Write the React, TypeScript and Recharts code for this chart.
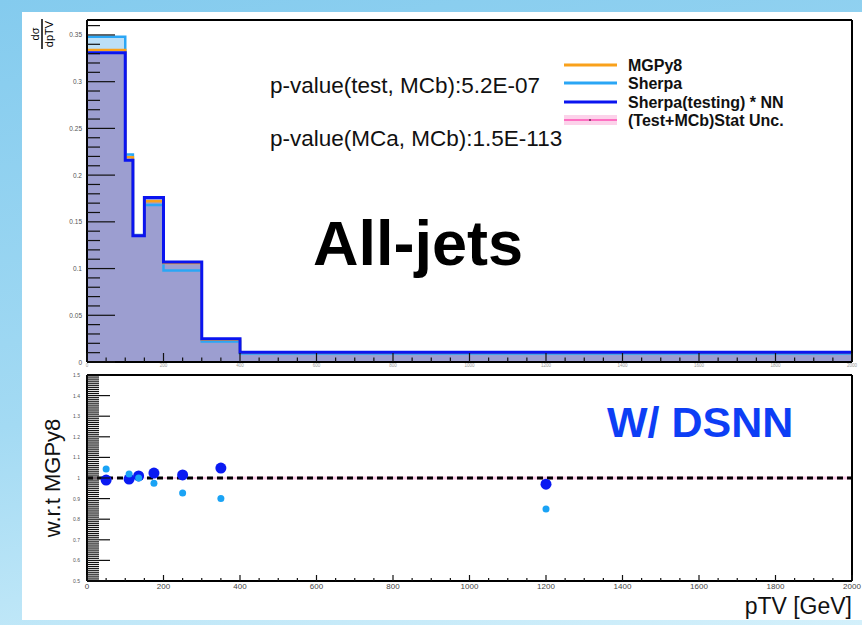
import React from 'react'
import { ComposedChart, Area, Scatter, XAxis, YAxis, ReferenceLine } from 'recharts'

// pTV binning and normalised cross-sections per bin
const binEdges = [0, 100, 120, 150, 200, 300, 400, 2000]
const mgpy8 = [0.334, 0.219, 0.135, 0.172, 0.106, 0.024, 0.0105]
const sherpa = [0.348, 0.222, 0.136, 0.168, 0.098, 0.022, 0.009]
const sherpaNN = [0.331, 0.216, 0.135, 0.176, 0.107, 0.025, 0.0105]
const statUnc = [0.002, 0.003, 0.003, 0.003, 0.005, 0.006, 0.007]

// ratio panel, w.r.t. MGPy8
const binCentres = [50, 110, 135, 175, 250, 350, 1200]
const ratioSherpa = [1.044, 1.02, 1.0, 0.975, 0.927, 0.9, 0.85]
const ratioNN = [0.99, 0.995, 1.01, 1.024, 1.015, 1.048, 0.97]

// axis labels
const xMajor = [0, 200, 400, 600, 800, 1000, 1200, 1400, 1600, 1800, 2000]
const xLabels = ['0', '200', '400', '600', '800', '1000', '1200', '1400', '1600', '1800', '2000']
const histYMajor = [0, 0.05, 0.1, 0.15, 0.2, 0.25, 0.3, 0.35]
const histYLabels = ['0', '0.05', '0.1', '0.15', '0.2', '0.25', '0.3', '0.35']
const ratioYMajor = [0.5, 0.6, 0.7, 0.8, 0.9, 1, 1.1, 1.2, 1.3, 1.4, 1.5]
const ratioYLabels = ['0.5', '0.6', '0.7', '0.8', '0.9', '1', '1.1', '1.2', '1.3', '1.4', '1.5']

const FONT = "'Liberation Sans', Arial, Helvetica, sans-serif"

const steps = (lo: number, hi: number, step: number) => {
  const out: number[] = []
  const n = Math.round((hi - lo) / step)
  for (let i = 0; i <= n; i++) out.push(+(lo + i * step).toFixed(6))
  return out
}

const histXTicks = steps(0, 2000, 50)
const histYTicks = steps(0, 0.36, 0.01)
const ratioYTicks = steps(0.5, 1.5, 0.01)

const histRows = binEdges.map((x, i) => {
  const k = Math.min(i, mgpy8.length - 1)
  return { x, mg: mgpy8[k], sherpa: sherpa[k], nn: sherpaNN[k], band: [1 - statUnc[k], 1 + statUnc[k]] }
})
const sherpaPts = binCentres.map((x, i) => ({ x, y: ratioSherpa[i] }))
const nnPts = binCentres.map((x, i) => ({ x, y: ratioNN[i] }))

const majorIndex = (majors: number[], v: number) => majors.findIndex((m) => Math.abs(m - v) < 1e-6)

// ROOT-style ticks, drawn inward from the frame
const yTick = (side: 'left' | 'right', majors: number[], labels: string[] | null, majLen: number, minLen: number, fs: number, gap: number) =>
  (p: any) => {
    const idx = majorIndex(majors, p.payload.value)
    const len = idx >= 0 ? majLen : minLen
    const dir = side === 'left' ? 1 : -1
    return (
      <g>
        <line x1={p.x} x2={p.x + dir * len} y1={p.y} y2={p.y} stroke="#111" strokeWidth={1.2} />
        {labels && idx >= 0 && (
          <text x={p.x - gap} y={p.y} textAnchor="end" dominantBaseline="central" fontSize={fs} fill="#555" fontFamily={FONT}>
            {labels[idx]}
          </text>
        )}
      </g>
    )
  }

const xTick = (side: 'bottom' | 'top', majLen: number, minLen: number, fs: number, gap: number, color: string) =>
  (p: any) => {
    const idx = majorIndex(xMajor, p.payload.value)
    const len = idx >= 0 ? majLen : minLen
    const dir = side === 'bottom' ? -1 : 1
    return (
      <g>
        <line x1={p.x} x2={p.x} y1={p.y} y2={p.y + dir * len} stroke="#111" strokeWidth={1.2} />
        {side === 'bottom' && idx >= 0 && fs > 0 && (
          <text x={p.x} y={p.y + gap} textAnchor="middle" fontSize={fs} fill={color} fontFamily={FONT}>
            {xLabels[idx]}
          </text>
        )}
      </g>
    )
  }

const frame = { stroke: '#000', strokeWidth: 2 }

function Spectrum() {
  return (
    <ComposedChart width={840} height={360} data={histRows} margin={{ top: 7, right: 0, bottom: 0, left: 0 }}>
      <XAxis dataKey="x" type="number" domain={[0, 2000]} ticks={histXTicks} interval={0} height={10}
        tickSize={0} tickMargin={0} axisLine={frame} tick={xTick('bottom', 9, 4.5, 4.5, 5, '#999')} />
      <XAxis xAxisId="top" orientation="top" type="number" domain={[0, 2000]} ticks={histXTicks} interval={0}
        height={1} tickSize={0} tickMargin={0} axisLine={frame} tick={xTick('top', 8, 4, 0, 0, '#000')} />
      <YAxis type="number" domain={[0, 0.366]} ticks={histYTicks} interval={0} width={65} allowDataOverflow
        tickSize={0} tickMargin={0} axisLine={frame} tick={yTick('left', histYMajor, histYLabels, 28, 13, 6.5, 5)} />
      <YAxis yAxisId="right" orientation="right" type="number" domain={[0, 0.366]} ticks={histYTicks} interval={0}
        width={10} tickSize={0} tickMargin={0} axisLine={frame} tick={yTick('right', histYMajor, null, 27, 13, 0, 0)} />
      <Area type="stepAfter" dataKey="sherpa" fill="#bcdff7" fillOpacity={1} stroke="none" dot={false} activeDot={false} isAnimationActive={false} />
      <Area type="stepAfter" dataKey="nn" fill="#9c9ed0" fillOpacity={1} stroke="none" dot={false} activeDot={false} isAnimationActive={false} />
      <Area type="stepAfter" dataKey={(r: any) => r.sherpa} fill="none" stroke="#2aa6f5" strokeWidth={2.5} dot={false} activeDot={false} isAnimationActive={false} />
      <Area type="stepAfter" dataKey="mg" fill="none" stroke="#f9a11b" strokeWidth={2.5} dot={false} activeDot={false} isAnimationActive={false} />
      <Area type="stepAfter" dataKey={(r: any) => r.nn} fill="none" stroke="#0a14f0" strokeWidth={3} dot={false} activeDot={false} isAnimationActive={false} />
    </ComposedChart>
  )
}

function Ratio() {
  return (
    <ComposedChart width={840} height={248} data={histRows} margin={{ top: 2, right: 0, bottom: 0, left: 0 }}>
      <XAxis dataKey="x" type="number" domain={[0, 2000]} ticks={histXTicks} interval={0} height={39}
        tickSize={0} tickMargin={0} axisLine={frame} tick={xTick('bottom', 6, 3, 8, 8, '#444')} />
      <XAxis xAxisId="top" orientation="top" type="number" domain={[0, 2000]} ticks={histXTicks} interval={0}
        height={1} tickSize={0} tickMargin={0} axisLine={frame} tick={xTick('top', 5, 3, 0, 0, '#000')} />
      <YAxis type="number" domain={[0.5, 1.5]} ticks={ratioYTicks} interval={0} width={65} allowDataOverflow
        tickSize={0} tickMargin={0} axisLine={frame} tick={yTick('left', ratioYMajor, ratioYLabels, 23, 12, 5, 7)} />
      <YAxis yAxisId="right" orientation="right" type="number" domain={[0.5, 1.5]} ticks={ratioYTicks} interval={0}
        width={10} tickSize={0} tickMargin={0} axisLine={frame} tick={yTick('right', ratioYMajor, null, 23, 12, 0, 0)} />
      <Area type="stepAfter" dataKey="band" fill="#f9c9e7" fillOpacity={1} stroke="none" dot={false} activeDot={false} isAnimationActive={false} />
      <ReferenceLine y={1} stroke="#000" strokeWidth={3} strokeDasharray="6 4" />
      <Scatter data={nnPts} dataKey="y" isAnimationActive={false}
        shape={(p: any) => <circle cx={p.cx} cy={p.cy} r={5.5} fill="#0a1af2" />} />
      <Scatter data={sherpaPts} dataKey="y" isAnimationActive={false}
        shape={(p: any) => <circle cx={p.cx} cy={p.cy} r={3.5} fill="#1aa3f5" />} />
    </ComposedChart>
  )
}

const legendRows = [
  { label: 'MGPy8', color: '#f9a11b', y: 65 },
  { label: 'Sherpa', color: '#2aa6f5', y: 83 },
  { label: 'Sherpa(testing) * NN', color: '#0a14f0', y: 102 },
]

function Annotations() {
  return (
    <svg width={862} height={625} style={{ position: 'absolute', left: 0, top: 0, pointerEvents: 'none' }} fontFamily={FONT}>
      {legendRows.map((r) => (
        <g key={r.label}>
          <line x1={564} x2={617} y1={r.y} y2={r.y} stroke={r.color} strokeWidth={3} />
          <text x={628} y={r.y} dominantBaseline="central" fontSize={16} fontWeight="bold" fill="#111">{r.label}</text>
        </g>
      ))}
      <rect x={564} y={115} width={53} height={10} fill="#fcd2ea" />
      <line x1={564} x2={617} y1={120} y2={120} stroke="#ff4fb5" strokeWidth={1.5} />
      <circle cx={590} cy={120} r={0.8} fill="#000" />
      <text x={628} y={120} dominantBaseline="central" fontSize={16} fontWeight="bold" fill="#111">(Test+MCb)Stat Unc.</text>

      <text x={270} y={93} fontSize={22.5} fill="#111">p-value(test, MCb):5.2E-07</text>
      <text x={270} y={146} fontSize={22.5} fill="#111">p-value(MCa, MCb):1.5E-113</text>
      <text x={313} y={265} fontSize={63} fontWeight="bold" fill="#000">All-jets</text>
      <text x={607} y={437} fontSize={43} fontWeight="bold" fill="#0d3ef5">W/ DSNN</text>

      <g transform="translate(42,34) rotate(-90)">
        <text x={0} y={-3} textAnchor="middle" fontSize={11} fill="#000">dσ</text>
        <line x1={-15} x2={15} y1={0} y2={0} stroke="#000" strokeWidth={1.5} />
        <text x={0} y={11} textAnchor="middle" fontSize={11} fill="#000">dpTV</text>
      </g>
      <text transform="translate(52,478) rotate(-90)" textAnchor="middle" dominantBaseline="central" fontSize={22} fill="#111">w.r.t MGPy8</text>
      <text x={852} y={614} textAnchor="end" fontSize={23} fill="#111">pTV [GeV]</text>
    </svg>
  )
}

export default function App() {
  return (
    <div style={{ position: 'fixed', left: 0, top: 0, width: 862, height: 625, overflow: 'hidden',
      background: 'linear-gradient(170deg, #84cbee 0%, #a3daf3 55%, #d3f0fb 100%)' }}>
      <div style={{ position: 'absolute', left: 22, top: 12, width: 840, height: 608, background: '#fff' }} />
      <div style={{ position: 'absolute', left: 22, top: 12 }}>
        <Spectrum />
      </div>
      <div style={{ position: 'absolute', left: 22, top: 372 }}>
        <Ratio />
      </div>
      <Annotations />
    </div>
  )
}
